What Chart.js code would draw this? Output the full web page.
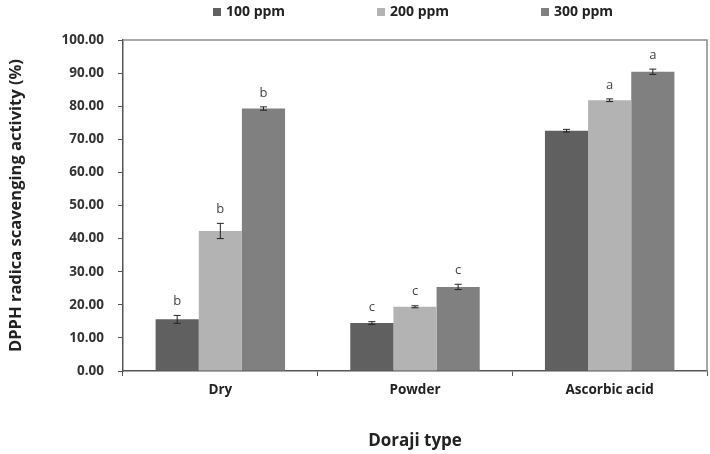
<!DOCTYPE html>
<html>
<head>
<meta charset="utf-8">
<script src="https://cdn.jsdelivr.net/npm/chart.js@4"></script>
<style>
  html, body { margin: 0; padding: 0; background: #fff; }
  #wrap { width: 710px; height: 454px; }
</style>
</head>
<body>
<div id="wrap"><canvas id="chart" width="710" height="454"></canvas></div>
<script>
const categories = ['Dry', 'Powder', 'Ascorbic acid'];
const seriesNames = ['100 ppm', '200 ppm', '300 ppm'];
const values100 = [15.6, 14.5, 72.6];
const values200 = [42.3, 19.4, 81.8];
const values300 = [79.3, 25.4, 90.4];
const errors100 = [1.2, 0.4, 0.4];
const errors200 = [2.3, 0.3, 0.4];
const errors300 = [0.5, 0.8, 0.8];
const letters100 = ['b', 'c', ''];
const letters200 = ['b', 'c', 'a'];
const letters300 = ['b', 'c', 'a'];
const yTicks = [0, 10, 20, 30, 40, 50, 60, 70, 80, 90, 100];

const colors = ['#606060', '#b3b3b3', '#808080'];
const FONT = "'Open Sans', 'Noto Sans', sans-serif";

const errs = [errors100, errors200, errors300];
const letters = [letters100, letters200, letters300];

// error bars, letters, frame, legend
const errorBarPlugin = {
    id: 'errorBars',
    afterDatasetsDraw(chart) {
        const ctx = chart.ctx;
        const y = chart.scales.y;
        ctx.save();
        chart.data.datasets.forEach((ds, di) => {
            const meta = chart.getDatasetMeta(di);
            meta.data.forEach((bar, i) => {
                const v = ds.data[i];
                const e = errs[di][i];
                const yTop = y.getPixelForValue(v + e);
                const yBot = y.getPixelForValue(v - e);
                ctx.strokeStyle = '#222';
                ctx.lineWidth = 1;
                ctx.beginPath();
                ctx.moveTo(bar.x, yTop); ctx.lineTo(bar.x, yBot);
                ctx.moveTo(bar.x - 3.5, yTop); ctx.lineTo(bar.x + 3.5, yTop);
                ctx.moveTo(bar.x - 3.5, yBot); ctx.lineTo(bar.x + 3.5, yBot);
                ctx.stroke();
                const t = letters[di][i];
                if (t) {
                    ctx.fillStyle = '#444';
                    ctx.font = '13px ' + FONT;
                    ctx.textAlign = 'center';
                    ctx.textBaseline = 'middle';
                    ctx.fillText(t, bar.x, yTop - 14);
                }
            });
        });
        ctx.restore();
    },
    afterDraw(chart) {
        const ctx = chart.ctx;
        const a = chart.chartArea;
        ctx.save();
        ctx.strokeStyle = '#8a8a8a';
        ctx.lineWidth = 1.5;
        ctx.beginPath();
        ctx.moveTo(a.left, a.top); ctx.lineTo(a.right, a.top); ctx.lineTo(a.right, a.bottom);
        ctx.stroke();

        const xs = [213, 377, 541];
        ctx.font = 'bold 14px ' + FONT;
        ctx.textBaseline = 'middle';
        ctx.textAlign = 'left';
        chart.data.datasets.forEach((ds, di) => {
            ctx.fillStyle = ds.backgroundColor;
            ctx.fillRect(xs[di], 8, 8, 8);
            ctx.fillStyle = '#222';
            ctx.fillText(ds.label, xs[di] + 13, 12);
        });
        ctx.restore();
    }
};

new Chart(document.getElementById('chart'), {
    type: 'bar',
    data: {
        labels: categories,
        datasets: [
            { label: seriesNames[0], data: values100, backgroundColor: colors[0] },
            { label: seriesNames[1], data: values200, backgroundColor: colors[1] },
            { label: seriesNames[2], data: values300, backgroundColor: colors[2] }
        ]
    },
    options: {
        responsive: false,
        animation: false,
        categoryPercentage: 0.665,
        barPercentage: 1.0,
        layout: { padding: { top: 40, right: 3, left: 0, bottom: 0 } },
        plugins: {
            legend: { display: false },
            tooltip: { enabled: false }
        },
        scales: {
            x: {
                afterFit: s => { s.height = 83; },
                border: { color: '#555', width: 1.5 },
                grid: { drawOnChartArea: false, tickLength: 5, color: '#555' },
                ticks: { color: '#222', padding: 6, font: { family: FONT, size: 13.5, weight: 'bold' } },
                title: {
                    display: true, text: 'Doraji type', color: '#222',
                    font: { family: FONT, size: 17, weight: 'bold' },
                    padding: { top: 0, bottom: 3 }
                }
            },
            y: {
                min: 0, max: 100,
                afterFit: s => { s.width = 123; },
                afterBuildTicks: s => { s.ticks = yTicks.map(v => ({ value: v })); },
                border: { color: '#555', width: 1.5 },
                grid: { drawOnChartArea: false, tickLength: 5, color: '#555' },
                ticks: {
                    color: '#333', padding: 14,
                    font: { family: FONT, size: 13.5, weight: 'bold' },
                    callback: v => v.toFixed(2)
                },
                title: {
                    display: true, text: 'DPPH radica scavenging activity (%)', color: '#222',
                    font: { family: FONT, size: 16.5, weight: 'bold' },
                    padding: { top: 6, bottom: 0 }
                }
            }
        }
    },
    plugins: [errorBarPlugin]
});
</script>
</body>
</html>
